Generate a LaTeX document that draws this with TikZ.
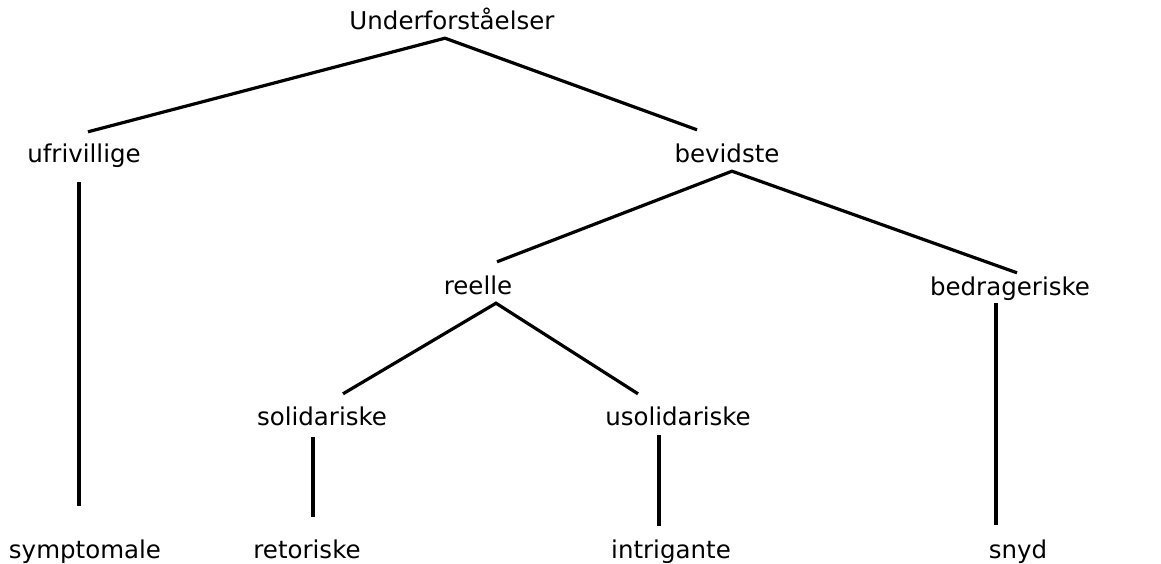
\documentclass[tikz,border=0pt]{standalone}
\usepackage{fontspec}
\setmainfont{DejaVu Sans}

\tikzset{
  term/.style={anchor=base, inner sep=0pt, text height=18pt, text depth=5pt,
               font=\fontsize{24.5}{29}\selectfont},
  branch/.style={line width=3.2pt}
}

\begin{document}
\begin{tikzpicture}[x=1pt, y=-1pt]

\useasboundingbox (0,0) rectangle (1161,564);

% levels
\node[term] (U) at (452,30) {Underforståelser};

\node[term] (ufr) at (84,163) {ufrivillige};
\node[term] (bev) at (727,163) {bevidste};

\node[term] (reel) at (478,294) {reelle};
\node[term] (bedr) at (1010,295) {bedrageriske};

\node[term] (sol) at (322,425) {solidariske};
\node[term] (usol) at (678,425) {usolidariske};

\node[term] (sympt) at (85,558) {symptomale};
\node[term] (ret) at (307,558) {retoriske};
\node[term] (intr) at (671,558) {intrigante};
\node[term] (snyd) at (1018,558) {snyd};

% branches
\draw[branch] ([xshift=4pt,yshift=13pt]ufr.north) -- ([xshift=-7pt,yshift=-3pt]U.south) -- ([xshift=-30pt,yshift=15pt]bev.north);
\draw[branch] ([xshift=-5pt,yshift=-14pt]ufr.south) -- ([xshift=-6pt,yshift=34pt]sympt.north);

\draw[branch] ([xshift=19pt,yshift=14pt]reel.north) -- ([xshift=5pt,yshift=-3pt]bev.south) -- ([xshift=7pt,yshift=4pt]bedr.north);
\draw[branch] ([xshift=-14pt,yshift=-3pt]bedr.south) -- ([xshift=-22pt,yshift=15pt]snyd.north);

\draw[branch] ([xshift=21pt,yshift=13pt]sol.north) -- ([xshift=18pt,yshift=-4pt]reel.south) -- ([xshift=-40pt,yshift=13pt]usol.north);
\draw[branch] ([xshift=-9pt,yshift=-7pt]sol.south) -- ([xshift=6pt,yshift=23pt]ret.north);
\draw[branch] ([xshift=-19pt,yshift=-5pt]usol.south) -- ([xshift=-12pt,yshift=14pt]intr.north);

\end{tikzpicture}
\end{document}
